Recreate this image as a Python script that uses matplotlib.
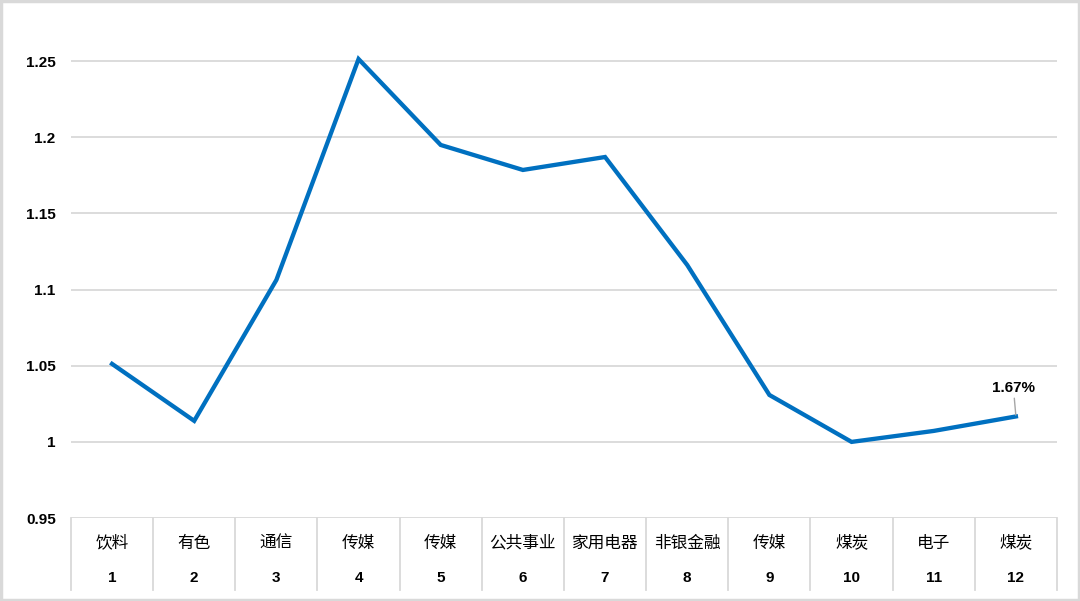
import matplotlib.pyplot as plt
from matplotlib.patches import Rectangle

plt.rcParams['font.family'] = ['Liberation Sans', 'Noto Sans CJK SC', 'DejaVu Sans']

# data
industries = ['饮料', '有色', '通信', '传媒', '传媒', '公共事业', '家用电器',
              '非银金融', '传媒', '煤炭', '电子', '煤炭']
ranks = [1, 2, 3, 4, 5, 6, 7, 8, 9, 10, 11, 12]
values = [1.0512, 1.0138, 1.1063, 1.2513, 1.1949, 1.1785, 1.1870,
          1.1161, 1.0308, 1.0000, 1.0072, 1.0167]
yticks = [0.95, 1.0, 1.05, 1.1, 1.15, 1.2, 1.25]
ytick_labels = ['0.95', '1', '1.05', '1.1', '1.15', '1.2', '1.25']
last_label = '1.67%'

line_color = '#0070C0'
grid_color = '#D9D9D9'

fig = plt.figure(figsize=(10.8, 6.01), dpi=100)
ax = fig.add_axes([0.0657, 0.138, 0.913, 0.8365])

ax.plot(ranks, values, color=line_color, lw=3.1, solid_joinstyle='miter', zorder=3)

ax.set_xlim(0.5, 12.5)
ax.set_ylim(0.95, 1.28)
ax.set_yticks(yticks)
ax.set_yticklabels(ytick_labels, fontsize=11, fontweight='bold')
ax.tick_params(axis='y', length=0, pad=11)
ax.set_xticks([])
for y in yticks:
    ax.axhline(y, color=grid_color, lw=1.3, zorder=1)
for s in ax.spines.values():
    s.set_visible(False)

# two-level category axis below the plot
trans = ax.get_xaxis_transform()
for b in range(13):
    ax.plot([b + 0.5, b + 0.5], [0, -0.143], transform=trans, color=grid_color,
            lw=1.3, clip_on=False)
for r, name in zip(ranks, industries):
    ax.text(r, -0.05, name, transform=trans, ha='center', va='center',
            fontsize=12, fontweight='medium', family=['Noto Sans CJK SC', 'DejaVu Sans'])
    ax.text(r, -0.119, str(r), transform=trans, ha='center', va='center',
            fontsize=11, fontweight='bold')

# data label on the last point
ax.annotate(last_label, xy=(ranks[-1], values[-1]), xytext=(ranks[-1] - 0.03, 1.0305),
            ha='center', va='bottom', fontsize=11, fontweight='bold',
            arrowprops=dict(arrowstyle='-', color='#A6A6A6', lw=1, shrinkA=0, shrinkB=1))

# light frame around the whole picture
fig.patches.append(Rectangle((0.001, 0.002), 0.998, 0.996, transform=fig.transFigure,
                             fill=False, edgecolor=grid_color, lw=2.5))

fig.savefig('out.png', dpi=100)
